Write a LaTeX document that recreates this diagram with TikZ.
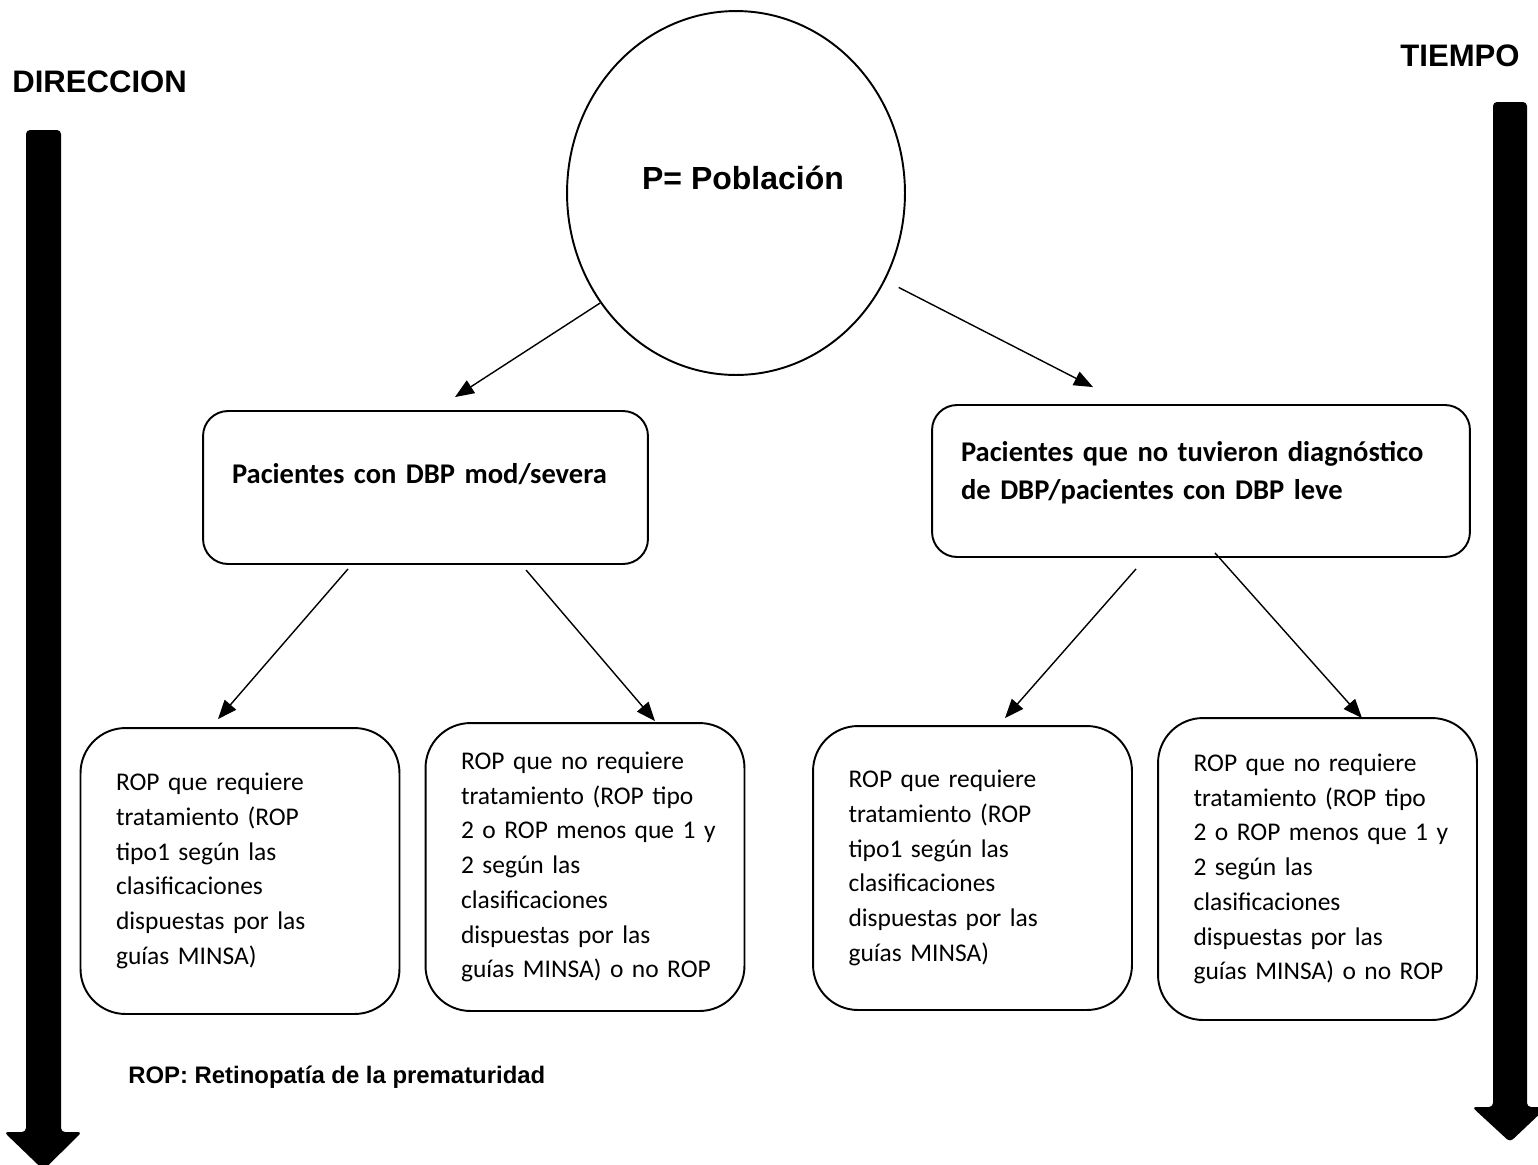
\documentclass[tikz,border=0pt]{standalone}
\usepackage{fontspec}
\setmainfont{Carlito}
\newfontfamily\arialfont{Liberation Sans}
\usetikzlibrary{positioning,calc,arrows.meta,shapes.geometric}

\begin{document}
\begin{tikzpicture}[x=0.02cm,y=-0.02cm,
  topbox/.style={rectangle,draw,line width=1.1pt,rounded corners=0.5cm,align=left,inner xsep=0.58cm,font=\bfseries\fontsize{16.25}{21.6}\selectfont},
  ropbox/.style={rectangle,draw,line width=1.1pt,rounded corners=0.9cm,align=left,inner xsep=0.71cm,text width=4.96cm,font=\fontsize{14.5}{19.8}\selectfont},
  conn/.style={-{Triangle[length=0.38cm,width=0.3cm]},line width=0.8pt},
  sidearrow/.style={fill=black,rounded corners=0.08cm}]
\useasboundingbox (0,0) rectangle (1538,1164);

% axis labels and side arrows
\node[anchor=base west,inner sep=0,font=\arialfont\bfseries\fontsize{17.7}{21}\selectfont] (dir) at (12,92) {DIRECCION};
\node[anchor=base west,inner sep=0,font=\arialfont\bfseries\fontsize{17.7}{21}\selectfont] (time) at (1400,66) {TIEMPO};
\fill[sidearrow] (26,130) -- (61,130) -- (61,1132) -- (82,1132) -- (43.5,1170) -- (4,1132) -- (26,1132) -- cycle;
\fill[sidearrow] (1493,102) -- (1527,102) -- (1527,1107) -- (1547,1107) -- (1510,1142) -- (1472,1107) -- (1493,1107) -- cycle;

% population
\node[ellipse,draw,line width=1.1pt,minimum width=6.76cm,minimum height=7.28cm] (pop) at (736,193) {};
\node[font=\arialfont\bfseries\fontsize{18.2}{22}\selectfont] (poptext) at (743,178) {P= Población};

% groups
\node[topbox,text width=7.74cm,text depth=0.55cm,minimum height=3.06cm] (dbp) at (425.5,487.5) {Pacientes con DBP mod/severa};
\node[topbox,text width=9.6cm,text depth=1.2cm,minimum height=3.04cm] (nodbp) at (1201,481) {Pacientes que no tuvieron diagnóstico\\de DBP/pacientes con DBP leve};

% outcomes
\node[ropbox,minimum height=5.72cm] (rop1) at (240,871) {ROP que requiere\\tratamiento (ROP\\tipo1 según las\\clasificaciones\\dispuestas por las\\guías MINSA)};
\node[ropbox,minimum height=5.76cm] (rop2) at (585,867) {ROP que no requiere\\tratamiento (ROP tipo\\\mbox{2 o ROP menos que 1 y}\\2 según las\\clasificaciones\\dispuestas por las\\\mbox{guías MINSA) o no ROP}};
\node[ropbox,minimum height=5.68cm] (rop3) at (972.5,868) {ROP que requiere\\tratamiento (ROP\\tipo1 según las\\clasificaciones\\dispuestas por las\\guías MINSA)};
\node[ropbox,minimum height=6.04cm] (rop4) at (1317.5,869) {ROP que no requiere\\tratamiento (ROP tipo\\\mbox{2 o ROP menos que 1 y}\\2 según las\\clasificaciones\\dispuestas por las\\\mbox{guías MINSA) o no ROP}};

\node[anchor=base west,inner sep=0,font=\arialfont\bfseries\fontsize{13.6}{16}\selectfont] (note) at (128,1083) {ROP: Retinopatía de la prematuridad};

\draw[conn] (pop.219) -- ($(dbp.north)+(29.5,-13)$);
\draw[conn] ($(pop.330)+(13,8)$) -- ($(nodbp.north)+(-108,-17)$);
\draw[conn] ($(dbp.south)+(-77.5,4)$) -- ($(rop1.north)+(-22,-8)$);
\draw[conn] ($(dbp.south)+(100.5,5)$) -- ($(rop2.north)+(70,-1)$);
\draw[conn] ($(nodbp.south)+(-65,11)$) -- ($(rop3.north)+(32.5,-7)$);
\draw[conn] ($(nodbp.south)+(14,-5)$) -- ($(rop4.north)+(44.5,1)$);
\end{tikzpicture}
\end{document}
